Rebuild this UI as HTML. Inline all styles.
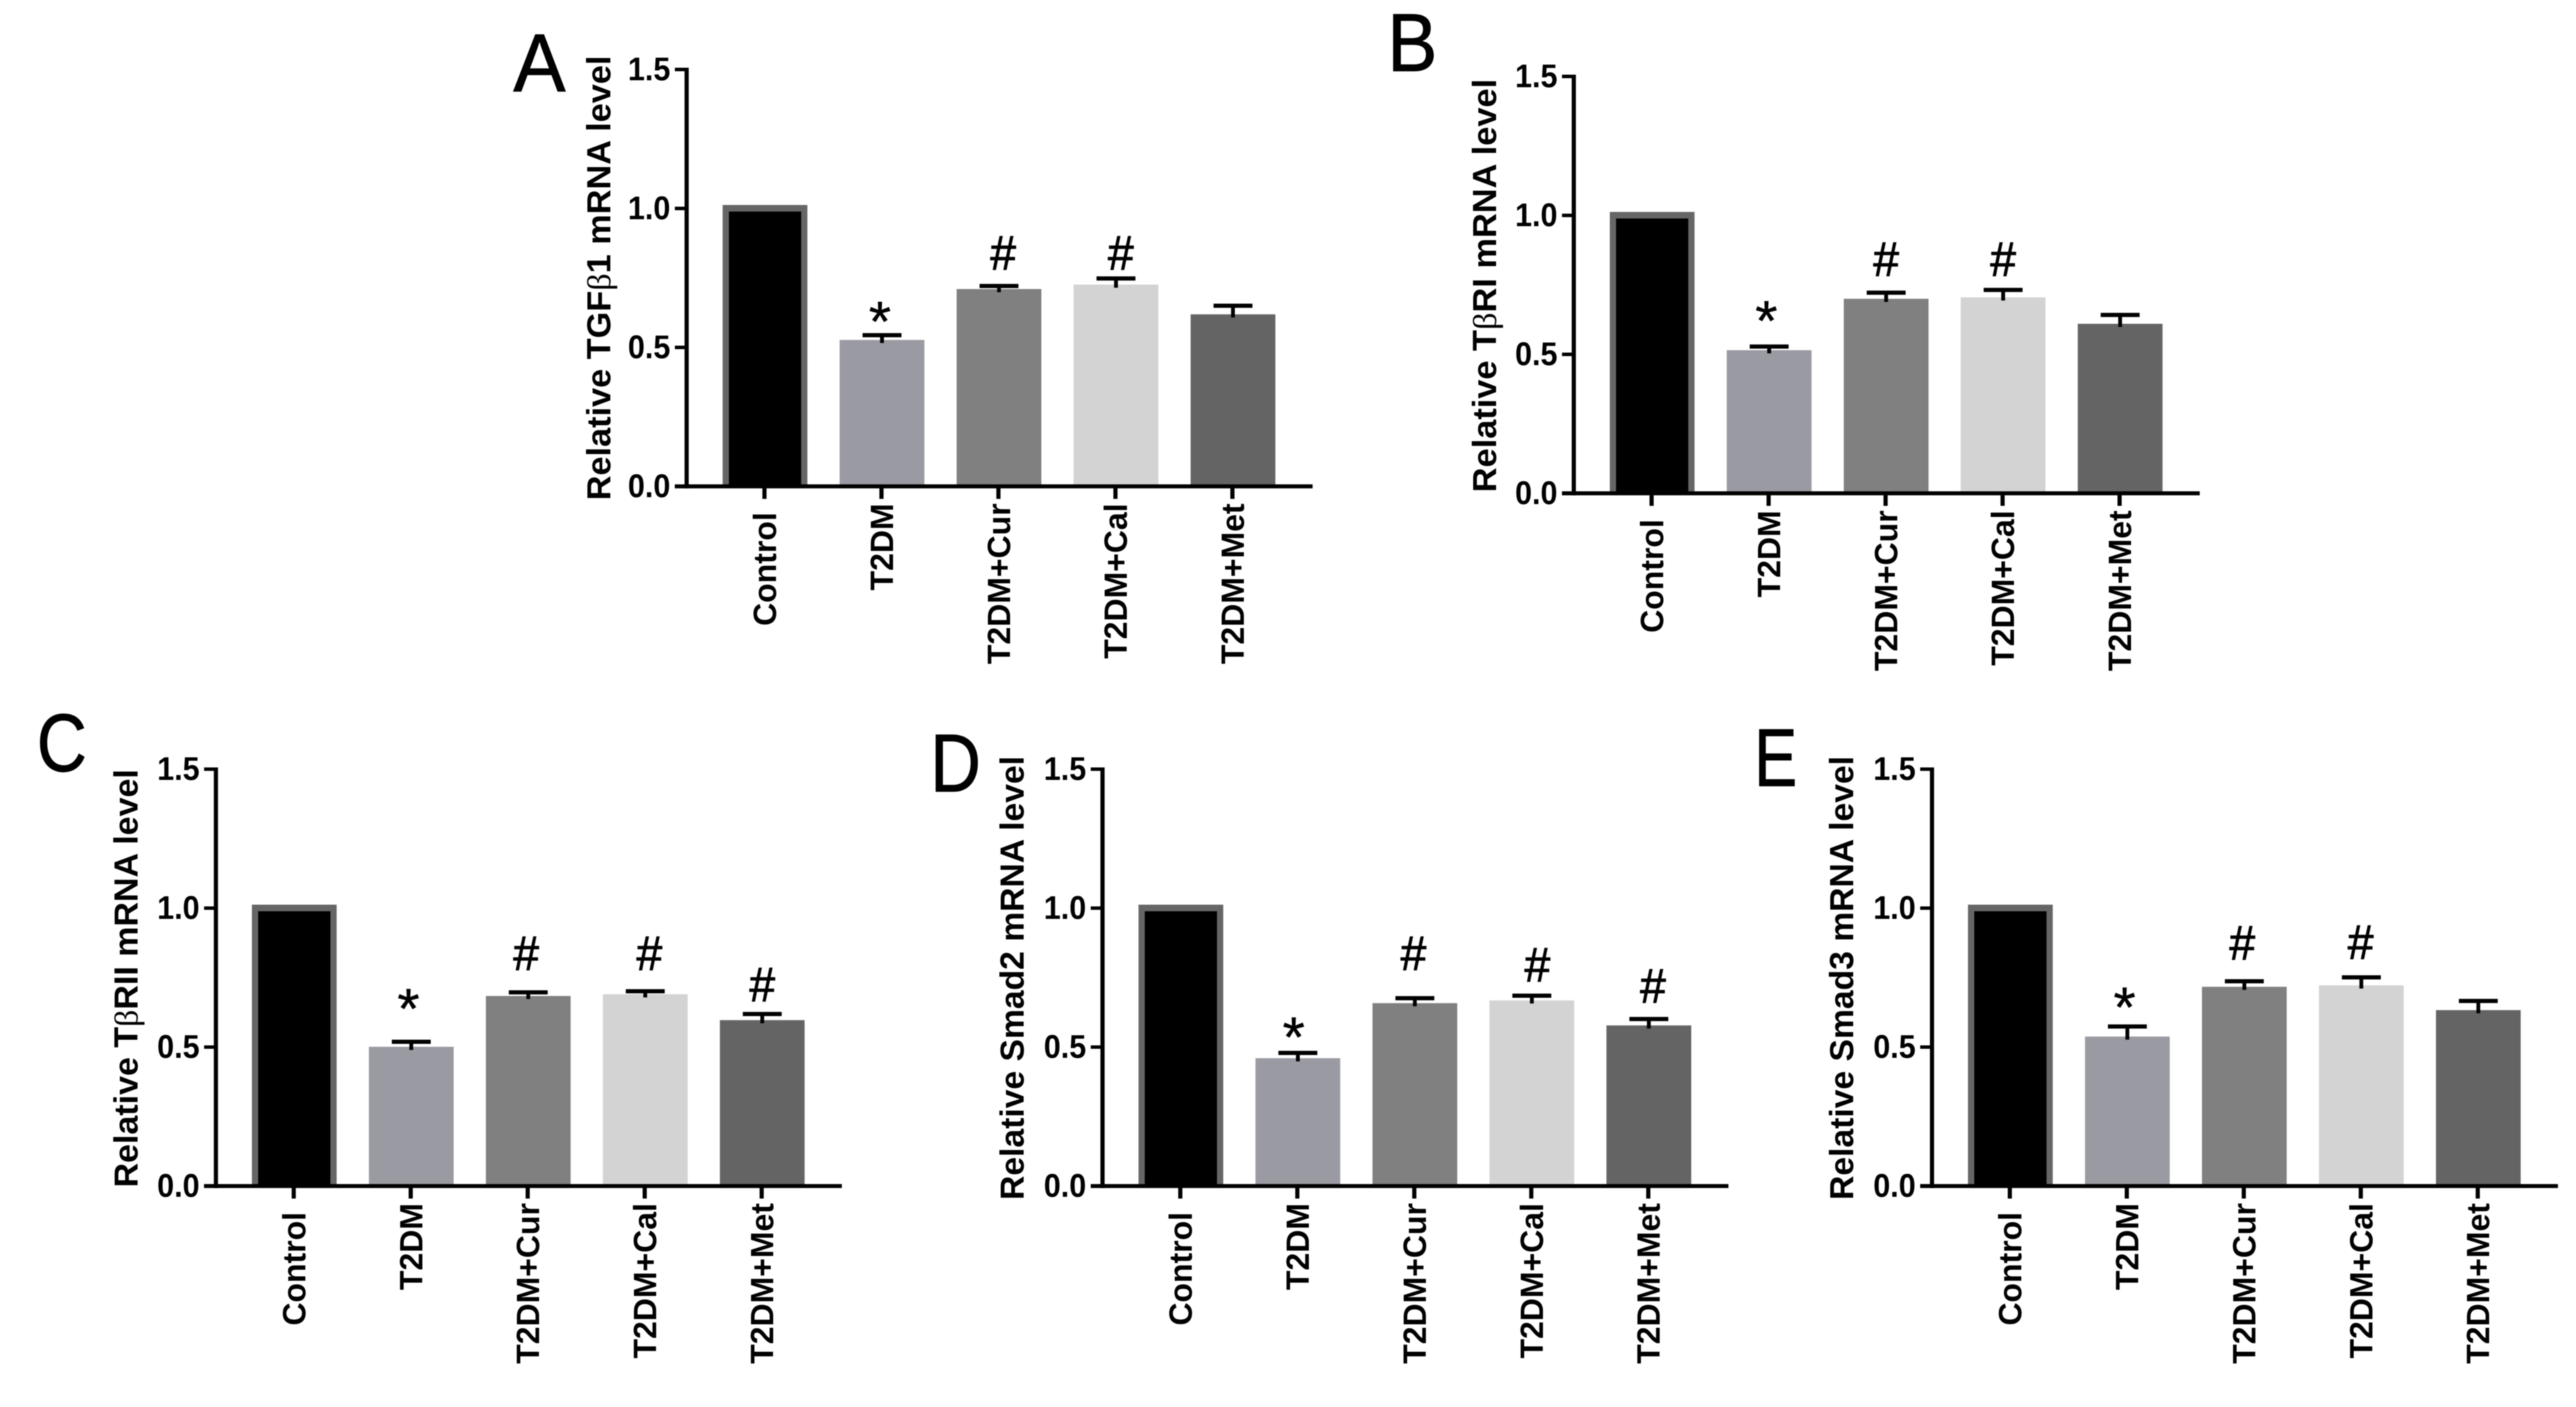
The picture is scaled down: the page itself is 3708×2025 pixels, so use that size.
<!DOCTYPE html>
<html lang="en">
<head>
<meta charset="utf-8">
<title>Relative mRNA levels</title>
<style>
html,body{margin:0;padding:0;background:#fff;}
#figure{display:block;width:3708px;height:2025px;filter:blur(0.9px);}
text{font-family:"Liberation Sans",sans-serif;fill:#000;}
</style>
</head>
<body>
<svg id="figure" xmlns="http://www.w3.org/2000/svg" width="3708" height="2025" viewBox="0 0 3708 2025"></svg>
<script>
// Shared chart data
const categories = ['Control\u00A0', 'T2DM', 'T2DM+Cur', 'T2DM+Cal', 'T2DM+Met'];
const categoryKeys = ['control', 't2dm', 't2dm-cur', 't2dm-cal', 't2dm-met'];
const yTicks = [0, 0.5, 1, 1.5];
const yTickLabels = ['0.0', '0.5', '1.0', '1.5'];

// Panel A: TGFb1
const aMeans = [1, 0.527, 0.71, 0.726, 0.619];
const aErrors = [0, 0.017, 0.011, 0.022, 0.031];
const aMarks = ['', '*', '#', '#', ''];
const aMarkLevels = [0, 0.628, 0.843, 0.843, 0];

// Panel B: TbRI
const bMeans = [1, 0.515, 0.7, 0.705, 0.61];
const bErrors = [0, 0.013, 0.022, 0.027, 0.032];
const bMarks = ['', '*', '#', '#', ''];
const bMarkLevels = [0, 0.655, 0.845, 0.845, 0];

// Panel C: TbRII
const cMeans = [1, 0.501, 0.684, 0.69, 0.597];
const cErrors = [0, 0.018, 0.013, 0.011, 0.022];
const cMarks = ['', '*', '#', '#', '#'];
const cMarkLevels = [0, 0.6725, 0.84, 0.84, 0.7275];

// Panel D: Smad2
const dMeans = [1, 0.46, 0.658, 0.668, 0.578];
const dErrors = [0, 0.019, 0.018, 0.017, 0.023];
const dMarks = ['', '*', '#', '#', '#'];
const dMarkLevels = [0, 0.57, 0.84, 0.7985, 0.7225];

// Panel E: Smad3
const eMeans = [1, 0.538, 0.717, 0.722, 0.633];
const eErrors = [0, 0.036, 0.02, 0.029, 0.033];
const eMarks = ['', '*', '#', '#', ''];
const eMarkLevels = [0, 0.6775, 0.8775, 0.88, 0];

const barFills = ['#000000', '#9a9aa2', '#808080', '#d3d3d3', '#646464'];

const svg = document.getElementById('figure');
const NS = 'http://www.w3.org/2000/svg';

function make(tag, attrs, parent) {
  const el = document.createElementNS(NS, tag);
  for (const k in attrs) el.setAttribute(k, attrs[k]);
  parent.appendChild(el);
  return el;
}

function drawPanel(p) {
  const group = make('g', {}, svg);
  
  

  const base = p.base;
  const unit = 400;
  const y = v => base - v * unit;
  const x = i => p.axisX + 112.8 + i * 168.4;
  const barW = 122;
  const capW = 56;

  // Panel letter
  const letter = make('text', {x: p.letterX, y: p.letterY, 'font-size': 118, textLength: p.letterW, lengthAdjust: 'spacingAndGlyphs', stroke: '#000', 'stroke-width': 1.2}, group);
  letter.textContent = p.letter;
  
  

  // Bars
  p.means.forEach((m, i) => {
    if (i === 0) {
      const border = make('rect', {x: x(i) - barW / 2, y: y(m) - 5, width: barW, height: base - y(m) + 5, fill: '#666666'}, group);
      
      
      const bar = make('rect', {x: x(i) - barW / 2 + 9, y: y(m) + 4.5, width: barW - 18, height: base - y(m) - 4.5, fill: barFills[i]}, group);
      
      
    } else {
      const bar = make('rect', {x: x(i) - barW / 2, y: y(m), width: barW, height: base - y(m), fill: barFills[i]}, group);
      
      
    }
  });

  // Error bars (upper whisker with a short stub showing inside the bar)
  p.errors.forEach((e, i) => {
    if (!e) return;
    const top = y(p.means[i] + e);
    const bottom = y(p.means[i]) + 4.5;
    const stem = make('line', {x1: x(i), x2: x(i), y1: top, y2: bottom, stroke: '#000', 'stroke-width': 5.5}, group);
    
    
    const cap = make('line', {x1: x(i) - capW / 2, x2: x(i) + capW / 2, y1: top, y2: top, stroke: '#000', 'stroke-width': 6}, group);
    
    
  });

  // Significance marks
  p.marks.forEach((s, i) => {
    if (!s) return;
    const isHash = s === '#';
    const attrs = {x: x(i) + p.nudge[i], y: y(p.markLevels[i]) + (isHash ? 25 : 42), 'font-size': isHash ? 70 : 82, 'text-anchor': 'middle', stroke: '#000', 'stroke-width': isHash ? 1.2 : 0.6};
    if (isHash) {
      attrs.textLength = 37;
      attrs.lengthAdjust = 'spacingAndGlyphs';
    }
    const mark = make('text', attrs, group);
    mark.textContent = s;
    
    
  });

  // Y axis
  const yAxis = make('line', {x1: p.axisX, x2: p.axisX, y1: y(1.5) - 2.5, y2: base + 3, stroke: '#000', 'stroke-width': 6}, group);
  
  

  yTicks.forEach((t, i) => {
    const tick = make('line', {x1: p.axisX - 17, x2: p.axisX, y1: y(t), y2: y(t), stroke: '#000', 'stroke-width': 5}, group);
    
    
    const label = make('text', {x: p.axisX - 23.5, y: y(t) + 15.5, 'font-size': 47, 'font-weight': 700, 'text-anchor': 'end', textLength: 61, lengthAdjust: 'spacingAndGlyphs'}, group);
    label.textContent = yTickLabels[i];
    
    
  });

  // X axis
  const xAxis = make('line', {x1: p.axisX - 17, x2: p.axisX + 901, y1: base, y2: base, stroke: '#000', 'stroke-width': 5.7}, group);
  
  

  categories.forEach((c, i) => {
    const tick = make('line', {x1: x(i) - 0.8, x2: x(i) - 0.8, y1: base, y2: base + 18, stroke: '#000', 'stroke-width': 6}, group);
    
    
    const lx = x(i) + 15.8;
    const ly = base + 24.5;
    const label = make('text', {x: lx, y: ly, 'font-size': 46, 'font-weight': 700, 'text-anchor': 'end', transform: 'rotate(-90 ' + lx + ' ' + ly + ')'}, group);
    label.textContent = c;
    
    
  });

  // Y axis title
  const title = make('text', {x: p.titleX, y: p.titleY, 'font-size': 48, 'font-weight': 700, textLength: p.titleLen, lengthAdjust: 'spacingAndGlyphs', transform: 'rotate(-90 ' + p.titleX + ' ' + p.titleY + ')'}, group);
  
  
  p.title.forEach(part => {
    const span = make('tspan', part.symbol ? {'font-family': '"Liberation Serif", serif', 'font-weight': 400} : {}, title);
    span.textContent = part.text;
  });
}

drawPanel({
  key: 'a', letter: 'A', letterX: 739, letterY: 131, letterW: 75,
  axisX: 988.4, base: 700,
  titleX: 878.3, titleY: 720, titleLen: 640,
  title: [{text: 'Relative TGF'}, {text: '\u03B2', symbol: true}, {text: '1 mRNA level'}],
  means: aMeans, errors: aErrors, marks: aMarks, markLevels: aMarkLevels,
  nudge: [0, -3, 6, 7, 0]
});
drawPanel({
  key: 'b', letter: 'B', letterX: 1997, letterY: 102, letterW: 72,
  axisX: 2265.4, base: 710,
  titleX: 2153.5, titleY: 708.5, titleLen: 595,
  title: [{text: 'Relative T'}, {text: '\u03B2', symbol: true}, {text: 'RI mRNA level'}],
  means: bMeans, errors: bErrors, marks: bMarks, markLevels: bMarkLevels,
  nudge: [0, -4, 0, 0, 0]
});
drawPanel({
  key: 'c', letter: 'C', letterX: 53, letterY: 1110, letterW: 72,
  axisX: 310.8, base: 1707,
  titleX: 198.2, titleY: 1709, titleLen: 602,
  title: [{text: 'Relative T'}, {text: '\u03B2', symbol: true}, {text: 'RII mRNA level'}],
  means: cMeans, errors: cErrors, marks: cMarks, markLevels: cMarkLevels,
  nudge: [0, -4, -3, 6, 0]
});
drawPanel({
  key: 'd', letter: 'D', letterX: 1339, letterY: 1139, letterW: 73,
  axisX: 1587, base: 1707,
  titleX: 1473.5, titleY: 1727, titleLen: 639,
  title: [{text: 'Relative Smad2 mRNA level'}],
  means: dMeans, errors: dErrors, marks: dMarks, markLevels: dMarkLevels,
  nudge: [0, -6, -2, 8, 6]
});
drawPanel({
  key: 'e', letter: 'E', letterX: 2525, letterY: 1131, letterW: 62,
  axisX: 2781, base: 1707,
  titleX: 2667.5, titleY: 1727, titleLen: 639,
  title: [{text: 'Relative Smad3 mRNA level'}],
  means: eMeans, errors: eErrors, marks: eMarks, markLevels: eMarkLevels,
  nudge: [0, -4, -3, -1, 0]
});
</script>
</body>
</html>
